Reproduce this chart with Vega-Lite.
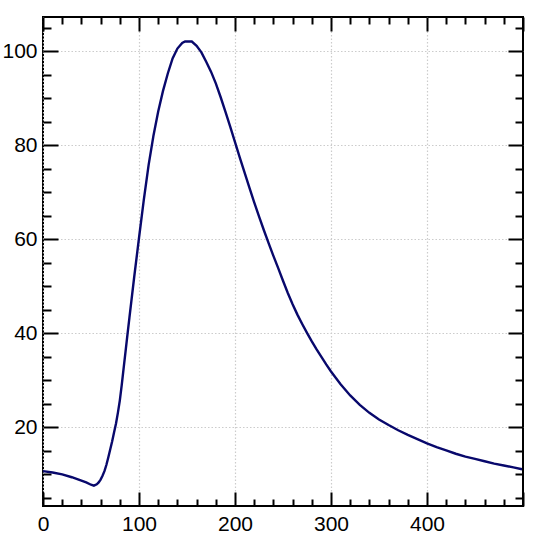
{
  "$schema": "https://vega.github.io/schema/vega-lite/v6.json",
  "autosize": "none",
  "width": 480,
  "height": 489,
  "padding": {"left": 43, "top": 17, "right": 20, "bottom": 36},
  "background": "white",
  "config": {
    "view": {"stroke": "black", "strokeWidth": 2},
    "axis": {"labelFont": "Liberation Sans", "labelFontSize": 21, "labelColor": "black", "domain": false, "tickColor": "black", "labelFlush": false}
  },
  "data": {"values": [
    {"x": 0, "y": 10.7}, {"x": 10, "y": 10.4}, {"x": 20, "y": 10.0}, {"x": 30, "y": 9.4},
    {"x": 40, "y": 8.7}, {"x": 45, "y": 8.3}, {"x": 50, "y": 7.8}, {"x": 53, "y": 7.6},
    {"x": 56, "y": 7.9}, {"x": 58, "y": 8.3}, {"x": 60, "y": 8.9}, {"x": 62, "y": 9.7},
    {"x": 64, "y": 10.7}, {"x": 66, "y": 12.0}, {"x": 68, "y": 13.6}, {"x": 70, "y": 15.3},
    {"x": 72, "y": 17.0}, {"x": 74, "y": 18.9}, {"x": 76, "y": 20.8}, {"x": 78, "y": 23.1},
    {"x": 80, "y": 25.7}, {"x": 82, "y": 29.0}, {"x": 84, "y": 32.6}, {"x": 86, "y": 36.2},
    {"x": 88, "y": 39.8}, {"x": 90, "y": 43.3}, {"x": 95, "y": 52.0}, {"x": 100, "y": 60.3},
    {"x": 105, "y": 68.4}, {"x": 110, "y": 75.8}, {"x": 115, "y": 82.0}, {"x": 120, "y": 87.2},
    {"x": 125, "y": 91.6}, {"x": 130, "y": 95.3}, {"x": 135, "y": 98.5}, {"x": 140, "y": 100.6},
    {"x": 145, "y": 101.8}, {"x": 148, "y": 102.1}, {"x": 155, "y": 102.1}, {"x": 160, "y": 101.2},
    {"x": 165, "y": 99.8}, {"x": 170, "y": 97.8}, {"x": 175, "y": 95.7}, {"x": 180, "y": 93.2},
    {"x": 185, "y": 90.3}, {"x": 190, "y": 87.2}, {"x": 195, "y": 84.0}, {"x": 200, "y": 80.7},
    {"x": 205, "y": 77.4}, {"x": 210, "y": 74.2}, {"x": 215, "y": 71.0}, {"x": 220, "y": 67.9},
    {"x": 225, "y": 64.9}, {"x": 230, "y": 62.0}, {"x": 235, "y": 59.2}, {"x": 240, "y": 56.5},
    {"x": 245, "y": 53.9}, {"x": 250, "y": 51.2}, {"x": 255, "y": 48.6}, {"x": 260, "y": 46.2},
    {"x": 265, "y": 44.0}, {"x": 270, "y": 42.0}, {"x": 275, "y": 40.1}, {"x": 280, "y": 38.3},
    {"x": 285, "y": 36.6}, {"x": 290, "y": 35.0}, {"x": 295, "y": 33.4}, {"x": 300, "y": 31.9},
    {"x": 310, "y": 29.2}, {"x": 320, "y": 26.8}, {"x": 330, "y": 24.8}, {"x": 340, "y": 23.1},
    {"x": 350, "y": 21.7}, {"x": 360, "y": 20.5}, {"x": 370, "y": 19.4}, {"x": 380, "y": 18.4},
    {"x": 390, "y": 17.5}, {"x": 400, "y": 16.6}, {"x": 410, "y": 15.8}, {"x": 420, "y": 15.1},
    {"x": 430, "y": 14.4}, {"x": 440, "y": 13.8}, {"x": 450, "y": 13.3}, {"x": 460, "y": 12.8},
    {"x": 470, "y": 12.3}, {"x": 480, "y": 11.9}, {"x": 490, "y": 11.5}, {"x": 499, "y": 11.1}
  ]},
  "resolve": {"axis": {"x": "independent", "y": "independent"}},
  "layer": [
    {
      "mark": {"type": "line", "opacity": 0},
      "encoding": {
        "x": {"field": "x", "type": "quantitative", "scale": {"domain": [0, 500], "nice": false, "zero": false},
              "axis": {"orient": "bottom", "title": null, "values": [0, 100, 200, 300, 400], "ticks": false, "labelPadding": 7,
                       "grid": true, "gridColor": "#cccccc", "gridDash": [1.5, 2], "gridWidth": 1.2}},
        "y": {"field": "y", "type": "quantitative", "scale": {"domain": [3.28, 107.32], "nice": false, "zero": false},
              "axis": {"orient": "left", "title": null, "values": [20, 40, 60, 80, 100], "ticks": false, "labelPadding": 6,
                       "grid": true, "gridColor": "#cccccc", "gridDash": [1.5, 2], "gridWidth": 1.2}}
      }
    },
    {
      "mark": {"type": "line", "opacity": 0},
      "encoding": {
        "x": {"field": "x", "type": "quantitative",
              "axis": {"orient": "bottom", "title": null, "values": [0, 100, 200, 300, 400, 500], "labels": false, "grid": false, "tickSize": -14, "tickWidth": 2}},
        "y": {"field": "y", "type": "quantitative",
              "axis": {"orient": "left", "title": null, "values": [20, 40, 60, 80, 100], "labels": false, "grid": false, "tickSize": -15, "tickWidth": 2}}
      }
    },
    {
      "mark": {"type": "line", "opacity": 0},
      "encoding": {
        "x": {"field": "x", "type": "quantitative",
              "axis": {"orient": "bottom", "title": null, "values": [20, 40, 60, 80, 120, 140, 160, 180, 220, 240, 260, 280, 320, 340, 360, 380, 420, 440, 460, 480], "labels": false, "grid": false, "tickSize": -7, "tickWidth": 2}},
        "y": {"field": "y", "type": "quantitative",
              "axis": {"orient": "left", "title": null, "values": [5, 10, 15, 25, 30, 35, 45, 50, 55, 65, 70, 75, 85, 90, 95, 105], "labels": false, "grid": false, "tickSize": -8, "tickWidth": 2}}
      }
    },
    {
      "mark": {"type": "line", "opacity": 0},
      "encoding": {
        "x": {"field": "x", "type": "quantitative",
              "axis": {"orient": "top", "title": null, "values": [0, 100, 200, 300, 400, 500], "labels": false, "grid": false, "tickSize": -14, "tickWidth": 2}},
        "y": {"field": "y", "type": "quantitative",
              "axis": {"orient": "right", "title": null, "values": [20, 40, 60, 80, 100], "labels": false, "grid": false, "tickSize": -15, "tickWidth": 2}}
      }
    },
    {
      "mark": {"type": "line", "opacity": 0},
      "encoding": {
        "x": {"field": "x", "type": "quantitative",
              "axis": {"orient": "top", "title": null, "values": [20, 40, 60, 80, 120, 140, 160, 180, 220, 240, 260, 280, 320, 340, 360, 380, 420, 440, 460, 480], "labels": false, "grid": false, "tickSize": -7, "tickWidth": 2}},
        "y": {"field": "y", "type": "quantitative",
              "axis": {"orient": "right", "title": null, "values": [5, 10, 15, 25, 30, 35, 45, 50, 55, 65, 70, 75, 85, 90, 95, 105], "labels": false, "grid": false, "tickSize": -8, "tickWidth": 2}}
      }
    },
    {
      "mark": {"type": "line", "color": "#08086c", "strokeWidth": 2.4},
      "encoding": {
        "x": {"field": "x", "type": "quantitative", "axis": null},
        "y": {"field": "y", "type": "quantitative", "axis": null}
      }
    }
  ]
}
